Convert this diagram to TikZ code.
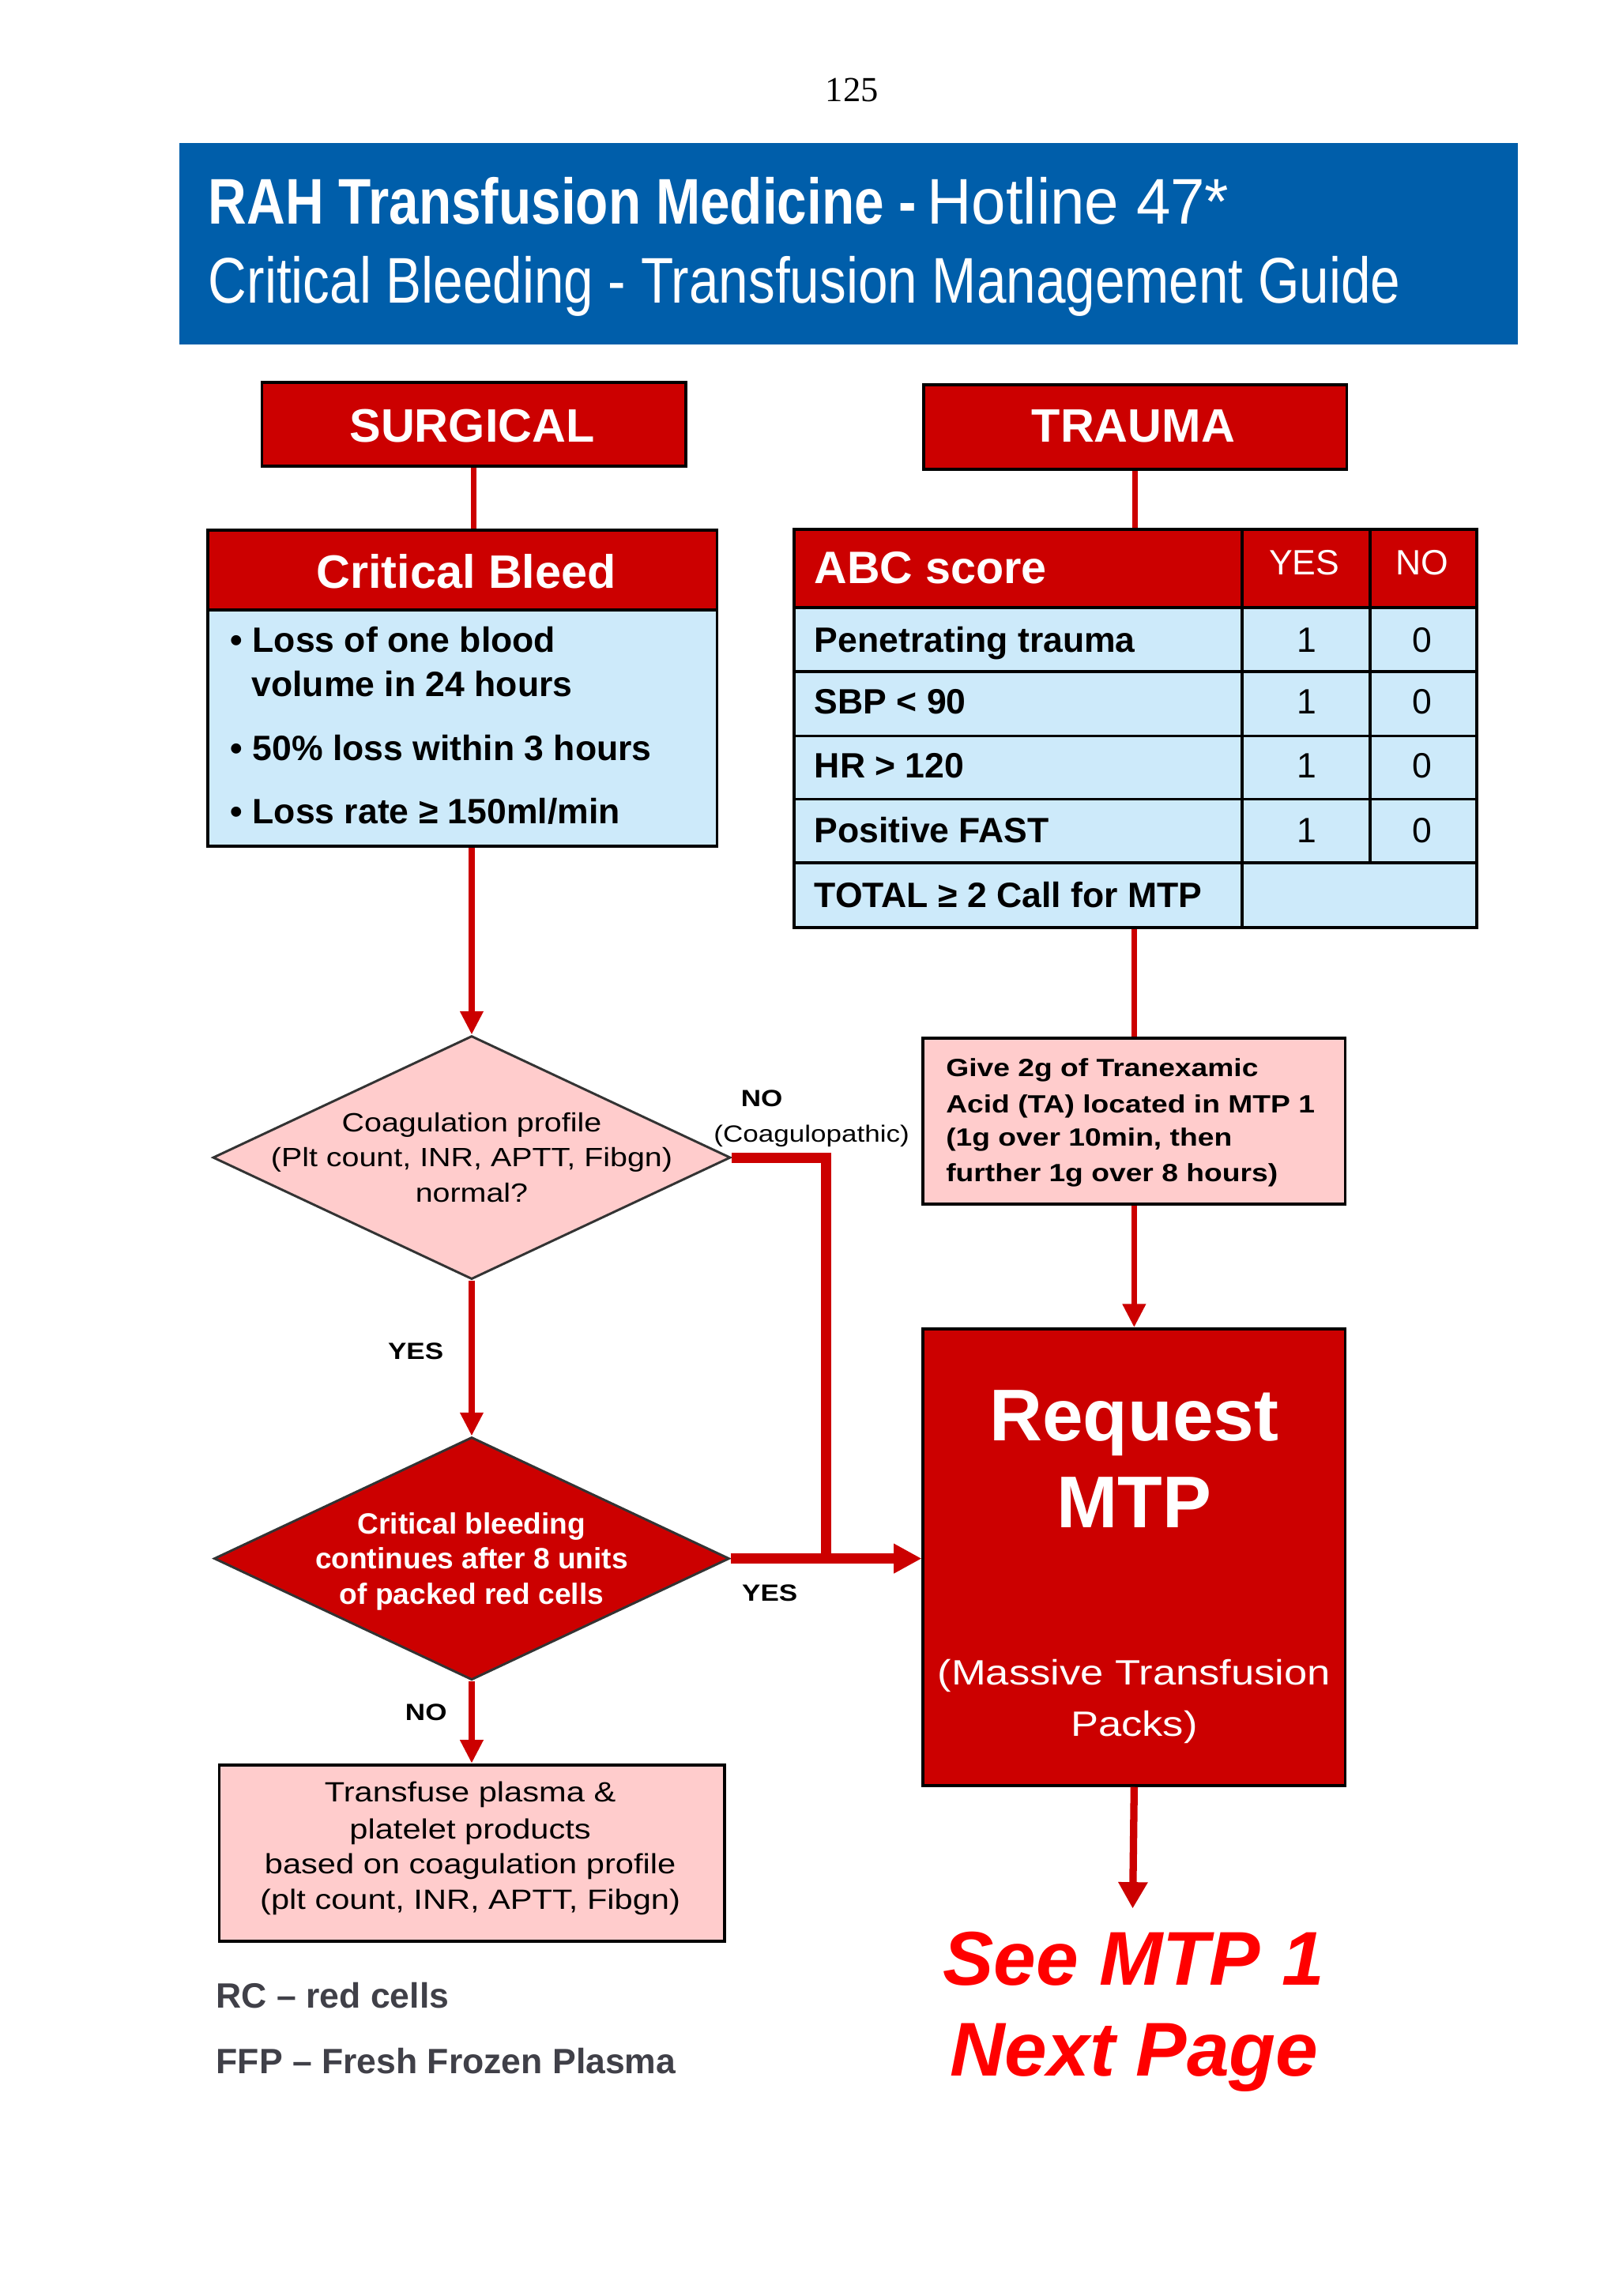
\documentclass[tikz,border=0pt]{standalone}
\usepackage{fontspec}
\usepackage{graphicx}
\setmainfont{Liberation Sans}
\newfontfamily\titlefont[FakeStretch=0.84]{Liberation Sans}
\newfontfamily\widefont[FakeStretch=1.18]{Liberation Sans}
\newfontfamily\pagefont{Liberation Serif}
\usetikzlibrary{arrows.meta,shapes.geometric}
\definecolor{rahred}{RGB}{204,0,0}
\definecolor{rahblue}{RGB}{205,234,250}
\definecolor{rahpink}{RGB}{255,204,204}
\definecolor{titleblue}{RGB}{0,94,170}
\definecolor{seered}{RGB}{255,0,0}
\definecolor{footgray}{RGB}{64,64,72}
\newcommand{\setfs}[1]{\fontsize{#1}{#1}\selectfont}
\tikzset{
  redbox/.style={draw=black, line width=2pt, fill=rahred, inner sep=0pt, anchor=north west},
  bluebox/.style={draw=black, line width=2pt, fill=rahblue, inner sep=0pt, anchor=north west},
  pinkbox/.style={draw=black, line width=2pt, fill=rahpink, inner sep=0pt, anchor=north west},
  titlebox/.style={draw=none, fill=titleblue, inner sep=0pt, anchor=north west},
  decision/.style={diamond, draw=black!80, line width=1.6pt, inner sep=0pt},
  txt/.style={inner sep=0pt, anchor=base},
  txtl/.style={inner sep=0pt, anchor=base west},
  conn/.style={draw=rahred, line width=4pt},
  arr/.style={draw=rahred, line width=4pt, -{Triangle[length=16pt,width=15pt]}},
  heavyline/.style={draw=rahred, line width=7pt, line join=miter},
  bigarr/.style={draw=rahred, line width=7pt, -{Triangle[length=19pt,width=19pt]}},
  endarr/.style={draw=rahred, line width=5pt, -{Triangle[length=18pt,width=19pt]}},
  gridline/.style={draw=black, line width=2pt}
}
\begin{document}
\begin{tikzpicture}[x=1pt,y=-1pt]
\useasboundingbox (0,0) rectangle (1104,1566);
\fill[white] (0,0) rectangle (1104,1566);

% page number
\node[txt] (pg) at (581,69) {\pagefont\setfs{24}125};

% title bar
\node[titlebox, minimum width=913pt, minimum height=137pt] (title) at (122,97.6) {};
\node[txtl, text=white] (t1a) at (142,153) {\resizebox{483pt}{\height}{\titlefont\setfs{44}\bfseries RAH Transfusion Medicine -}};
\node[txtl, text=white] (t1b) at (632,153) {\resizebox{206pt}{\height}{\titlefont\setfs{44}Hotline 47*}};
\node[txtl, text=white] (t2) at (142,206.6) {\resizebox{813pt}{\height}{\titlefont\setfs{44}Critical Bleeding - Transfusion Management Guide}};

% SURGICAL
\node[redbox, minimum width=289pt, minimum height=57pt] (surg) at (177.6,259.8) {};
\node[txt, text=white] (surgt) at (322,301.6) {\setfs{32}\bfseries SURGICAL};

% TRAUMA
\node[redbox, minimum width=288.5pt, minimum height=57.7pt] (trauma) at (629,261.3) {};
\node[txt, text=white] (traumat) at (773,301.6) {\setfs{32}\bfseries TRAUMA};

% Critical bleed box
\node[bluebox, minimum width=347.3pt, minimum height=215.4pt] (cb) at (140.7,360.6) {};
\node[redbox, minimum width=347.3pt, minimum height=54.4pt] (cbh) at (140.7,360.6) {};
\node[txt, text=white] (cbt) at (318,401) {\setfs{32}\bfseries Critical Bleed};
\node[txtl] (b1) at (157,445) {\setfs{24}\bfseries • Loss of one blood};
\node[txtl] (b1b) at (171.5,475) {\setfs{24}\bfseries volume in 24 hours};
\node[txtl] (b2) at (157,518.7) {\setfs{24}\bfseries • 50\% loss within 3 hours};
\node[txtl] (b3) at (157,562) {\setfs{24}\bfseries • Loss rate ≥ 150ml/min};

% ABC score table
\node[bluebox, minimum width=465.7pt, minimum height=271.5pt] (abc) at (540.5,360.2) {};
\node[redbox, minimum width=465.7pt, minimum height=53.2pt] (abch) at (540.5,360.2) {};
\draw[gridline] (847.2,360.2) -- (847.2,631.7);
\draw[gridline] (934.5,360.2) -- (934.5,588.5);
\draw[gridline] (540.5,458) -- (1006.2,458);
\draw[gridline] (540.5,502) -- (1006.2,502);
\draw[gridline] (540.5,545) -- (1006.2,545);
\draw[gridline] (540.5,588.5) -- (1006.2,588.5);
\node[txtl, text=white] (abct) at (555.3,398) {\setfs{31}\bfseries ABC score};
\node[txt, text=white] (yesh) at (889.6,392) {\setfs{24}YES};
\node[txt, text=white] (noh) at (970,392) {\setfs{24}NO};
\node[txtl] (r1) at (555.3,445) {\setfs{24}\bfseries Penetrating trauma};
\node[txtl] (r2) at (555.3,487) {\setfs{24}\bfseries SBP < 90};
\node[txtl] (r3) at (555.3,530.3) {\setfs{24}\bfseries HR > 120};
\node[txtl] (r4) at (555.3,574.7) {\setfs{24}\bfseries Positive FAST};
\node[txtl] (r5) at (555.3,619) {\setfs{24}\bfseries TOTAL ≥ 2 Call for MTP};
\node[txt] (y1) at (891,445) {\setfs{24}1};
\node[txt] (y2) at (891,487) {\setfs{24}1};
\node[txt] (y3) at (891,530.3) {\setfs{24}1};
\node[txt] (y4) at (891,574.7) {\setfs{24}1};
\node[txt] (n1) at (970,445) {\setfs{24}0};
\node[txt] (n2) at (970,487) {\setfs{24}0};
\node[txt] (n3) at (970,530.3) {\setfs{24}0};
\node[txt] (n4) at (970,574.7) {\setfs{24}0};

% Tranexamic acid box
\node[pinkbox, minimum width=287.8pt, minimum height=113.3pt] (ta) at (628.6,707) {};
\node[txtl] (ta1) at (645,734) {\widefont\setfs{17}\bfseries Give 2g of Tranexamic};
\node[txtl] (ta2) at (645,759) {\widefont\setfs{17}\bfseries Acid (TA) located in MTP 1};
\node[txtl] (ta3) at (645,781.7) {\widefont\setfs{17}\bfseries (1g over 10min, then};
\node[txtl] (ta4) at (645,806) {\widefont\setfs{17}\bfseries further 1g over 8 hours)};

% Request MTP box
\node[redbox, minimum width=287.8pt, minimum height=311.4pt] (mtp) at (628.6,905.4) {};
\node[txt, text=white] (mtp1) at (773.5,982.6) {\setfs{50}\bfseries Request};
\node[txt, text=white] (mtp2) at (773.5,1042) {\setfs{50}\bfseries MTP};
\node[txt, text=white] (mtp3) at (773.5,1149) {\widefont\setfs{24}(Massive Transfusion};
\node[txt, text=white] (mtp4) at (773.5,1184.3) {\widefont\setfs{24}Packs)};

% See MTP 1
\node[txt, text=seered] (see1) at (773,1354) {\setfs{52}\bfseries\itshape See MTP 1};
\node[txt, text=seered] (see2) at (773.5,1415.7) {\setfs{52}\bfseries\itshape Next Page};
\coordinate (seetip) at (772.5,1301.7);

% decision 1
\node[decision, fill=rahpink, minimum width=353pt, minimum height=166pt] (d1) at (321.7,789.5) {};
\node[txt] (d1a) at (321.7,772) {\widefont\setfs{18}Coagulation profile};
\node[txt] (d1b) at (321.7,795.6) {\widefont\setfs{18}(Plt count, INR, APTT, Fibgn)};
\node[txt] (d1c) at (321.7,820) {\widefont\setfs{18}normal?};

% decision 2
\node[decision, fill=rahred, minimum width=351.4pt, minimum height=165.6pt] (d2) at (321.7,1063) {};
\node[txt, text=white] (d2a) at (321.7,1046) {\setfs{20}\bfseries Critical bleeding};
\node[txt, text=white] (d2b) at (321.7,1070) {\setfs{20}\bfseries continues after 8 units};
\node[txt, text=white] (d2c) at (321.7,1094) {\setfs{20}\bfseries of packed red cells};

% plasma box
\node[pinkbox, minimum width=344.5pt, minimum height=120.3pt] (plasma) at (148.5,1202.7) {};
\node[txt] (p1) at (320.7,1229) {\widefont\setfs{19}Transfuse plasma \&};
\node[txt] (p2) at (320.7,1254.4) {\widefont\setfs{19}platelet products};
\node[txt] (p3) at (320.7,1278) {\widefont\setfs{19}based on coagulation profile};
\node[txt] (p4) at (320.7,1302.4) {\widefont\setfs{19}(plt count, INR, APTT, Fibgn)};

% labels
\node[txt] (lno1) at (519.5,754.7) {\widefont\setfs{16}\bfseries NO};
\node[txt] (lcoag) at (553.5,779) {\widefont\setfs{16}(Coagulopathic)};
\node[txt] (lyes1) at (283.5,927) {\widefont\setfs{16}\bfseries YES};
\node[txt] (lyes2) at (525,1091.8) {\widefont\setfs{16}\bfseries YES};
\node[txt] (lno2) at (290.6,1173.6) {\widefont\setfs{16}\bfseries NO};

% footnotes
\node[txtl, text=footgray] (f1) at (147.3,1369.6) {\setfs{24}\bfseries RC – red cells};
\node[txtl, text=footgray] (f2) at (147.3,1414.5) {\setfs{24}\bfseries FFP – Fresh Frozen Plasma};

% connectors
\coordinate (nojoin) at (563.5,789.5);
\draw[conn] (surg.south) -- (surg.south |- cbh.north);
\draw[conn] (trauma.south) -- (trauma.south |- abch.north);
\draw[arr] (d1.north |- cb.south) -- (d1.north);
\draw[conn] (ta.north |- abc.south) -- (ta.north);
\draw[arr] (ta.south) -- (mtp.north);
\draw[arr] (d1.south) -- (d2.north);
\draw[heavyline] (d1.east) -| (nojoin |- d2.east);
\draw[bigarr] (d2.east) -- (d2.east -| mtp.west);
\draw[arr] (d2.south) -- (d2.south |- plasma.north);
\draw[endarr] (mtp.south) -- (seetip);
\end{tikzpicture}
\end{document}
